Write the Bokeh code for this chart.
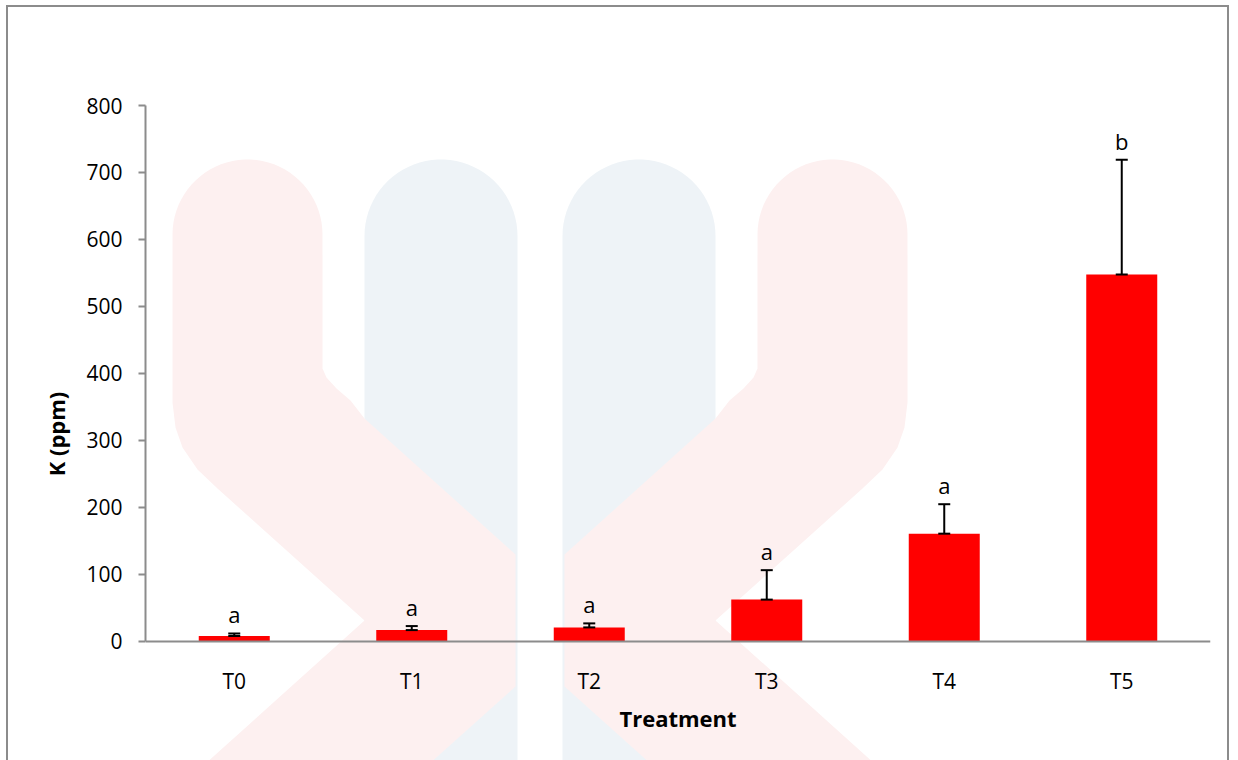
import numpy as np
from bokeh.plotting import figure
from bokeh.models import (ColumnDataSource, Whisker, TeeHead, PolyAnnotation,
                          FactorRange, Range1d, FixedTicker, LabelSet)
from bokeh.embed import file_html
from bokeh.resources import INLINE
from bokeh.core.properties import value

# Potassium content per treatment (mean, standard deviation, letter group)
treatments = ["T0", "T1", "T2", "T3", "T4", "T5"]
k_ppm = [7.5, 16.5, 20.5, 62, 160.5, 547.5]
k_sd = [4, 6, 6, 44, 44, 171.5]
groups = ["a", "a", "a", "a", "a", "b"]
y_ticks = [0, 100, 200, 300, 400, 500, 600, 700, 800]

FONT = "Open Sans"
AXIS_GREY = "#8c8c8c"

# page layout (pixels)
OFF_X, OFF_Y = 8, 7            # canvas origin inside the framed box
CANVAS_W, CANVAS_H = 1219, 753
FRAME_L, FRAME_R, FRAME_T = 145, 1206, 105
AXIS_Y = 639                   # where y = 0 sits
Y_MAX = 800
px_per_unit = (AXIS_Y - FRAME_T) / Y_MAX
y_min = -((OFF_Y + CANVAS_H) - AXIS_Y) / px_per_unit

src = ColumnDataSource(dict(
    t=treatments,
    k=k_ppm,
    top=[m + s for m, s in zip(k_ppm, k_sd)],
    grp=groups,
))

p = figure(
    width=CANVAS_W, height=CANVAS_H,
    x_range=FactorRange(*treatments),
    y_range=Range1d(y_min, Y_MAX),
    output_backend="svg", toolbar_location=None,
    min_border_left=FRAME_L - OFF_X,
    min_border_right=OFF_X + CANVAS_W - FRAME_R,
    min_border_top=FRAME_T - OFF_Y,
    min_border_bottom=0,
)
p.styles = {
    "box-sizing": "content-box",
    "margin-left": "6px", "margin-top": "5px",
    "border-left": f"2px solid {AXIS_GREY}",
    "border-top": f"2px solid {AXIS_GREY}",
    "border-right": f"2px solid {AXIS_GREY}",
}
p.background_fill_color = "white"
p.border_fill_color = "white"
p.outline_line_color = None
p.xgrid.grid_line_color = None
p.ygrid.grid_line_color = None


# faint logo watermark behind the chart (page pixels, shifted to canvas)
def rounded_column(x0, x1, top, bottom):
    r = (x1 - x0) / 2
    cx = x0 + r
    t = np.linspace(np.pi, 0, 40)
    xs = list(cx + r * np.cos(t)) + [x1, x0]
    ys = list(top + r - r * np.sin(t)) + [bottom, bottom]
    return xs, ys


def left_chevron():
    r = 75
    cx, cy = 245, 232
    t = np.linspace(np.pi, 0, 40)
    xs = list(cx + r * np.cos(t))
    ys = list(cy - r * np.sin(t))
    xs += [320, 324, 334, 348, 362, 513, 513, 406, 182, 362, 215, 195, 180, 173, 170]
    ys += [366, 375, 386, 398, 416, 552, 684, 780, 780, 618, 486, 467, 445, 425, 400]
    return xs, ys


def to_canvas(xs, ys):
    return [x - OFF_X for x in xs], [y - OFF_Y for y in ys]


for x0, x1 in [(362, 515), (560, 713)]:
    bx, by = to_canvas(*rounded_column(x0, x1, 157, 800))
    p.add_layout(PolyAnnotation(xs=bx, ys=by, xs_units="canvas", ys_units="canvas",
                                fill_color="#eef3f7", fill_alpha=1,
                                line_color=None, level="image"))

lx, ly = left_chevron()
for xs in (lx, [1075 - x for x in lx]):
    cx_, cy_ = to_canvas(xs, ly)
    p.add_layout(PolyAnnotation(xs=cx_, ys=cy_, xs_units="canvas", ys_units="canvas",
                                fill_color="#fdf0f0", fill_alpha=1,
                                line_color=None, level="image"))

# bars
p.vbar(x="t", top="k", width=0.4, source=src, fill_color="#ff0000", line_color=None)

# standard deviation whiskers
w = Whisker(source=src, base="t", lower="k", upper="top",
            line_color="black", line_width=2,
            upper_head=TeeHead(size=12, line_color="black", line_width=2),
            lower_head=TeeHead(size=12, line_color="black", line_width=2))
w.level = "annotation"
p.add_layout(w)

# significance letters
p.add_layout(LabelSet(x="t", y="top", text="grp", source=src,
                      text_align="center", text_baseline="alphabetic",
                      y_offset=10, text_font=value(FONT),
                      text_font_size="22px", text_color="black"))

# axes
p.yaxis.ticker = FixedTicker(ticks=y_ticks)
p.yaxis.bounds = (0, Y_MAX)
p.yaxis.axis_label = "K (ppm)"
p.xaxis.axis_label = "Treatment"
p.xaxis.fixed_location = 0
for ax in (p.xaxis, p.yaxis):
    ax.axis_line_color = AXIS_GREY
    ax.axis_line_width = 2
    ax.major_label_text_font = FONT
    ax.major_label_text_font_size = "21px"
    ax.major_label_text_color = "black"
    ax.axis_label_text_font = FONT
    ax.axis_label_text_font_size = "22px"
    ax.axis_label_text_font_style = "bold"
    ax.axis_label_text_color = "black"
    ax.minor_tick_line_color = None

p.yaxis.major_tick_line_color = AXIS_GREY
p.yaxis.major_tick_line_width = 2
p.yaxis.major_tick_out = 7
p.yaxis.major_tick_in = 0
p.yaxis.major_label_standoff = 16
p.yaxis.axis_label_standoff = 12

p.xaxis.major_tick_line_color = None
p.xaxis.major_tick_out = 0
p.xaxis.major_label_standoff = 26
p.xaxis.axis_label_standoff = 4

open("out.html", "w").write(file_html(p, INLINE))
